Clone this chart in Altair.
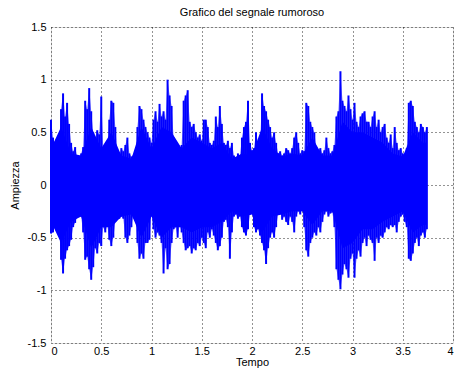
import altair as alt
import pandas as pd

# Spike tips of the noisy signal, every 0.02 s from 0 to 3.74 s
upper = [
    0.62, 0.45, 0.37, 0.35, 0.38,
    0.72, 0.87, 0.65, 0.78, 0.58,
    0.40, 0.32, 0.36, 0.27, 0.25,
    0.30, 0.36, 0.80, 0.72, 0.92,
    0.70, 0.50, 0.45, 0.52, 0.48,
    0.84, 0.35, 0.30, 0.33, 0.62,
    0.80, 0.78, 0.55, 0.30, 0.28,
    0.35, 0.32, 0.38, 0.45, 0.30,
    0.27, 0.28, 0.25, 0.55, 0.75,
    0.72, 0.62, 0.55, 0.50, 0.45,
    0.40, 0.62, 0.70, 0.60, 0.77,
    0.65, 0.70, 0.62, 1.00, 0.85,
    0.75, 0.45, 0.38, 0.33, 0.30,
    0.38, 0.80, 0.85, 0.90, 0.60,
    0.55, 0.58, 0.50, 0.45, 0.48,
    0.42, 0.62, 0.62, 0.55, 0.40,
    0.38, 0.42, 0.65, 0.55, 0.75,
    0.58, 0.40, 0.38, 0.42, 0.35,
    0.40, 0.28, 0.25, 0.30, 0.27,
    0.45, 0.55, 0.60, 0.80, 0.40,
    0.33, 0.35, 0.50, 0.40, 0.35,
    0.87, 0.75, 0.70, 0.62, 0.55,
    0.45, 0.50, 0.40, 0.30, 0.32,
    0.28, 0.30, 0.35, 0.33, 0.30,
    0.35, 0.45, 0.50, 0.40, 0.30,
    0.33, 0.32, 0.78, 0.75, 0.60,
    0.55, 0.50, 0.35, 0.33, 0.35,
    0.30, 0.33, 0.45, 0.35, 0.30,
    0.32, 0.38, 0.65, 0.70, 1.08,
    0.80, 0.75, 0.70, 0.85, 0.72,
    0.62, 0.78, 0.60, 0.55, 0.65,
    0.68, 0.70, 0.60, 0.60, 0.55,
    0.65, 0.70, 0.55, 0.62, 0.50,
    0.55, 0.58, 0.45, 0.40, 0.48,
    0.35, 0.55, 0.40, 0.33, 0.35,
    0.30, 0.28, 0.35, 0.78, 0.80,
    0.75, 0.60, 0.55, 0.50, 0.58,
    0.55, 0.50, 0.55,
]
lower = [
    -0.46, -0.45, -0.36, -0.38, -0.40,
    -0.71, -0.84, -0.70, -0.62, -0.58,
    -0.52, -0.40, -0.36, -0.30, -0.22,
    -0.30, -0.45, -0.71, -0.68, -0.80,
    -0.90, -0.78, -0.60, -0.65, -0.55,
    -0.58, -0.40, -0.45, -0.38, -0.52,
    -0.58, -0.50, -0.35, -0.30, -0.32,
    -0.30, -0.32, -0.50, -0.55, -0.48,
    -0.40, -0.27, -0.30, -0.55, -0.70,
    -0.65, -0.70, -0.55, -0.55, -0.52,
    -0.25, -0.42, -0.50, -0.45, -0.48,
    -0.55, -0.84, -0.60, -0.80, -0.75,
    -0.55, -0.42, -0.40, -0.50, -0.38,
    -0.45, -0.55, -0.62, -0.60, -0.58,
    -0.65, -0.60, -0.62, -0.55, -0.58,
    -0.50, -0.55, -0.60, -0.45, -0.50,
    -0.42, -0.48, -0.55, -0.62, -0.58,
    -0.50, -0.35, -0.33, -0.40, -0.70,
    -0.45, -0.30, -0.28, -0.32, -0.30,
    -0.40, -0.45, -0.48, -0.42, -0.28,
    -0.25, -0.40, -0.45, -0.42, -0.48,
    -0.55, -0.62, -0.75, -0.60, -0.50,
    -0.45, -0.50, -0.40, -0.28, -0.25,
    -0.33, -0.30, -0.35, -0.38, -0.30,
    -0.35, -0.45, -0.30, -0.25, -0.28,
    -0.22, -0.40, -0.62, -0.68, -0.55,
    -0.50, -0.45, -0.48, -0.40, -0.45,
    -0.35, -0.28, -0.25, -0.30, -0.27,
    -0.26, -0.40, -0.80, -0.90, -0.99,
    -0.85, -0.75, -0.80, -0.88, -0.70,
    -0.65, -0.88, -0.70, -0.62, -0.68,
    -0.55, -0.50, -0.58, -0.48, -0.52,
    -0.55, -0.72, -0.50, -0.55, -0.48,
    -0.50, -0.45, -0.40, -0.42, -0.38,
    -0.40, -0.38, -0.45, -0.35, -0.30,
    -0.28, -0.35, -0.40, -0.70, -0.72,
    -0.65, -0.55, -0.50, -0.58, -0.48,
    -0.45, -0.50, -0.42,
]
step = 0.02
times = [round(i * step, 2) for i in range(len(upper))]

# Solid body of the signal (where the blue is continuous), read every 0.1 s
body_t = [0.0, 0.1, 0.2, 0.3, 0.4, 0.5, 0.6, 0.7, 0.8, 0.9,
          1.0, 1.1, 1.2, 1.3, 1.4, 1.5, 1.6, 1.7, 1.8, 1.9,
          2.0, 2.1, 2.2, 2.3, 2.4, 2.5, 2.6, 2.7, 2.8, 2.9,
          3.0, 3.1, 3.2, 3.3, 3.4, 3.5, 3.6, 3.7, 3.74]
body_up = [0.35, 0.55, 0.30, 0.28, 0.55, 0.35, 0.50, 0.28, 0.25, 0.55,
           0.35, 0.55, 0.50, 0.35, 0.45, 0.40, 0.35, 0.40, 0.25, 0.30,
           0.28, 0.55, 0.35, 0.27, 0.30, 0.28, 0.45, 0.28, 0.28, 0.60,
           0.50, 0.50, 0.45, 0.40, 0.30, 0.27, 0.50, 0.40, 0.40]
body_lo = [-0.35, -0.55, -0.35, -0.30, -0.60, -0.40, -0.40, -0.30, -0.28, -0.50,
           -0.30, -0.50, -0.40, -0.40, -0.45, -0.40, -0.40, -0.35, -0.25, -0.30,
           -0.28, -0.45, -0.30, -0.28, -0.25, -0.25, -0.38, -0.25, -0.25, -0.60,
           -0.55, -0.42, -0.42, -0.35, -0.30, -0.25, -0.45, -0.38, -0.38]

x_ticks = [0, 0.5, 1, 1.5, 2, 2.5, 3, 3.5, 4]
y_ticks = [-1.5, -1, -0.5, 0, 0.5, 1, 1.5]

spikes = pd.DataFrame({"t": times, "upper": upper, "lower": lower})
body = pd.DataFrame({"t": body_t, "upper": body_up, "lower": body_lo})

FONT = "Liberation Sans"
label_expr = "datum.value < 0 ? '-' + format(-datum.value, '~g') : format(datum.value, '~g')"

common = dict(domain=False, ticks=False, grid=True, gridColor="black", gridDash=[1, 3],
              gridOpacity=0.85, gridWidth=1, labelFont=FONT, labelFontSize=11,
              labelColor="black", titleFont=FONT, titleFontSize=11, titleColor="black",
              titleFontWeight="normal")

x_enc = alt.X("t:Q", scale=alt.Scale(domain=[0, 4], nice=False),
              axis=alt.Axis(title="Tempo", values=x_ticks, labelExpr=label_expr,
                            labelPadding=2, titlePadding=0, **common))
y_enc = alt.Y("upper:Q", scale=alt.Scale(domain=[-1.5, 1.5], nice=False),
              axis=alt.Axis(title="Ampiezza", values=y_ticks, labelExpr=label_expr,
                            labelPadding=5, titlePadding=7, **common))

body_layer = alt.Chart(body).mark_area(color="#0000FF", opacity=1, interpolate="linear").encode(
    x=x_enc, y=y_enc, y2="lower:Q"
)
spike_area = alt.Chart(spikes).mark_area(color="#0000FF", opacity=0.6, interpolate="linear").encode(
    x="t:Q", y="upper:Q", y2="lower:Q"
)
spike_layer = alt.Chart(spikes).mark_rule(color="#0000FF", strokeWidth=2).encode(
    x="t:Q", y="upper:Q", y2="lower:Q"
)

chart = alt.layer(body_layer, spike_area, spike_layer).properties(
    width=402, height=316,
    title=alt.TitleParams("Grafico del segnale rumoroso", fontSize=11, font=FONT,
                          fontWeight="normal", color="black", offset=3),
    autosize=alt.AutoSizeParams(type="none"),
    padding={"left": 51, "top": 27, "right": 3, "bottom": 33},
).configure_view(
    stroke="#222222", strokeWidth=1
).configure(background="white")

chart.save("out.html", embed_options={"renderer": "svg", "actions": False})
